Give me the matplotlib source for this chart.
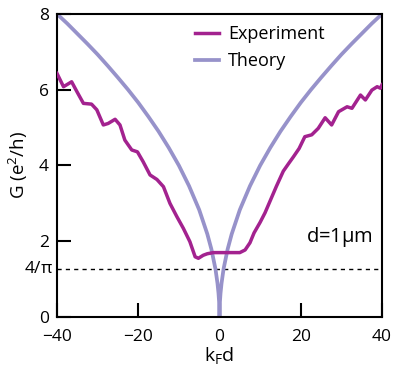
import matplotlib.pyplot as plt
import numpy as np

plt.rcParams['font.family'] = ['Open Sans', 'DejaVu Sans']
plt.rcParams['mathtext.fontset'] = 'custom'
plt.rcParams['mathtext.rm'] = 'Open Sans'
plt.rcParams['mathtext.it'] = 'Open Sans'

# experiment
exp_x = [-40, -38.4, -36.4, -35.1, -33.5, -31.5, -30.2, -28.6, -27.4, -25.7, -24.5,
         -23.3, -21.6, -20.2, -18.8, -17.1, -15.4, -13.8, -12.2, -10.5, -8.9, -7.3,
         -6.0, -5.2, -4.0, -3.0, -1.5, 0.0, 2.5, 5.0, 6.3, 7.5, 8.5, 10.0, 11.2,
         12.4, 14.0, 15.7, 17.0, 18.2, 19.6, 21.0, 22.7, 24.3, 26.0, 27.6, 29.3,
         31.4, 32.6, 34.7, 35.9, 37.5, 38.8, 39.6, 40]
exp_g = [6.43, 6.08, 6.21, 5.95, 5.64, 5.62, 5.47, 5.07, 5.11, 5.22, 5.07,
         4.67, 4.41, 4.36, 4.10, 3.75, 3.63, 3.44, 3.00, 2.65, 2.34, 1.99,
         1.59, 1.55, 1.63, 1.67, 1.70, 1.70, 1.70, 1.70, 1.77, 1.96, 2.22, 2.50, 2.75,
         3.05, 3.45, 3.85, 4.05, 4.23, 4.45, 4.76, 4.81, 4.98, 5.26, 5.07, 5.42,
         5.55, 5.51, 5.86, 5.73, 5.99, 6.08, 6.04, 6.13]

# theory (one half, the curve is symmetric)
th_x_half = [0, 0.1, 0.25, 0.5, 1, 2, 3, 5, 7.5, 10, 12.5, 15, 17.5, 20, 22.5,
             25, 27.5, 30, 32.5, 35, 37.5, 40]
th_g_half = [0, 0.40, 0.63, 0.89, 1.27, 1.79, 2.19, 2.83, 3.46, 4.0, 4.47, 4.90,
             5.29, 5.66, 6.0, 6.32, 6.63, 6.93, 7.21, 7.48, 7.75, 8.0]

th_x = [-v for v in th_x_half[::-1]] + th_x_half[1:]
th_g = th_g_half[::-1] + th_g_half[1:]

exp_color = '#a3228f'
th_color = '#9792ca'

fig = plt.figure(figsize=(4.02, 3.81), dpi=100)
ax = fig.add_axes([0.1418, 0.168, 0.8085, 0.7953])

ax.axhline(4 / np.pi, color='black', lw=1.0, ls=(0, (3, 3)), zorder=1)
ax.plot(th_x, th_g, color=th_color, lw=2.7, label='Theory', zorder=2)
ax.plot(exp_x, exp_g, color=exp_color, lw=2.5, label='Experiment', zorder=3)

ax.set_xlim(-40, 40)
ax.set_ylim(0, 8)
ax.set_xticks([-40, -20, 0, 20, 40])
ax.set_yticks([0, 2, 4, 6, 8])
ax.tick_params(direction='in', length=10, width=1.5, labelsize=12.5,
               top=False, right=False)
ax.tick_params(axis='x', pad=9)
ax.tick_params(axis='y', pad=6)
for s in ax.spines.values():
    s.set_linewidth(1.5)

ax.text(-40.9, 4 / np.pi, r'4/$\pi$', ha='right', va='center', fontsize=12.5)
ax.text(37.8, 2.1, r'd=1$\mu$m', ha='right', va='center', fontsize=14.5)

ax.set_xlabel(r'k$_\mathregular{F}$d', fontsize=14, labelpad=0)
ax.set_ylabel(r'G (e$^\mathregular{2}$/h)', fontsize=13.5, labelpad=6)

h, l = ax.get_legend_handles_labels()
ax.legend(h[::-1], l[::-1], loc='upper left', bbox_to_anchor=(0.385, 1.005),
          frameon=False, fontsize=13, handlelength=1.35, handletextpad=0.5,
          labelspacing=0.5, borderaxespad=0.3)

fig.savefig('out.png', dpi=100)
